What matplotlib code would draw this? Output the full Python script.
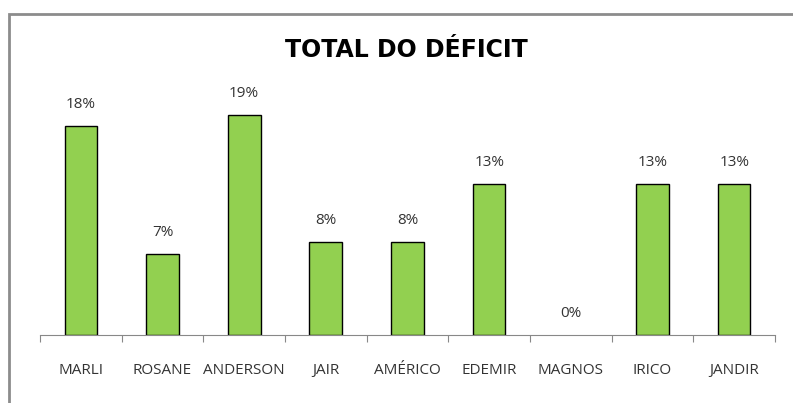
import matplotlib.pyplot as plt
from matplotlib.patches import Rectangle

nomes = ['MARLI', 'ROSANE', 'ANDERSON', 'JAIR', 'AMÉRICO', 'EDEMIR', 'MAGNOS', 'IRICO', 'JANDIR']
deficit = [18, 7, 19, 8, 8, 13, 0, 13, 13]

fig = plt.figure(figsize=(7.93, 4.03), dpi=100)

# moldura do grafico (estilo excel)
fig.patches.append(Rectangle((9 / 793, -0.1), 1.2, 1.1 - 14 / 403, transform=fig.transFigure,
                             fill=False, edgecolor='#8c8c8c', linewidth=2))

ax = fig.add_axes([40 / 793, 1 - 335 / 403, 735 / 793, 255 / 403])
x = range(len(nomes))
barras = ax.bar(x, deficit, width=0.4, color='#92D050', edgecolor='black', linewidth=1)
for b, v in zip(barras, deficit):
    if v == 0:
        b.set_linewidth(0)
for xi, v in zip(x, deficit):
    ax.annotate(str(v) + '%', (xi, v), xytext=(0, 10), textcoords='offset points',
                ha='center', va='bottom', fontsize=11, family='Open Sans', color='#333333')

ax.set_xlim(-0.5, len(nomes) - 0.5)
ax.set_ylim(0, 255 / 11.6)
ax.set_xticks([i - 0.5 for i in range(len(nomes) + 1)])
ax.set_xticklabels([])
ax.set_xticks(list(x), minor=True)
ax.set_xticklabels(nomes, minor=True, fontsize=11, family='Open Sans', color='#333333')
ax.tick_params(axis='x', which='major', length=5, color='#888888', direction='out')
ax.tick_params(axis='x', which='minor', length=0, pad=20)
ax.set_yticks([])
for s in ['left', 'right', 'top']:
    ax.spines[s].set_visible(False)
ax.spines['bottom'].set_color('#888888')

fig.text(406 / 793, 1 - 50 / 403, 'TOTAL DO DÉFICIT', ha='center', va='center',
         fontsize=17, fontweight='bold', family='DejaVu Sans')

fig.savefig('out.png', dpi=100)
